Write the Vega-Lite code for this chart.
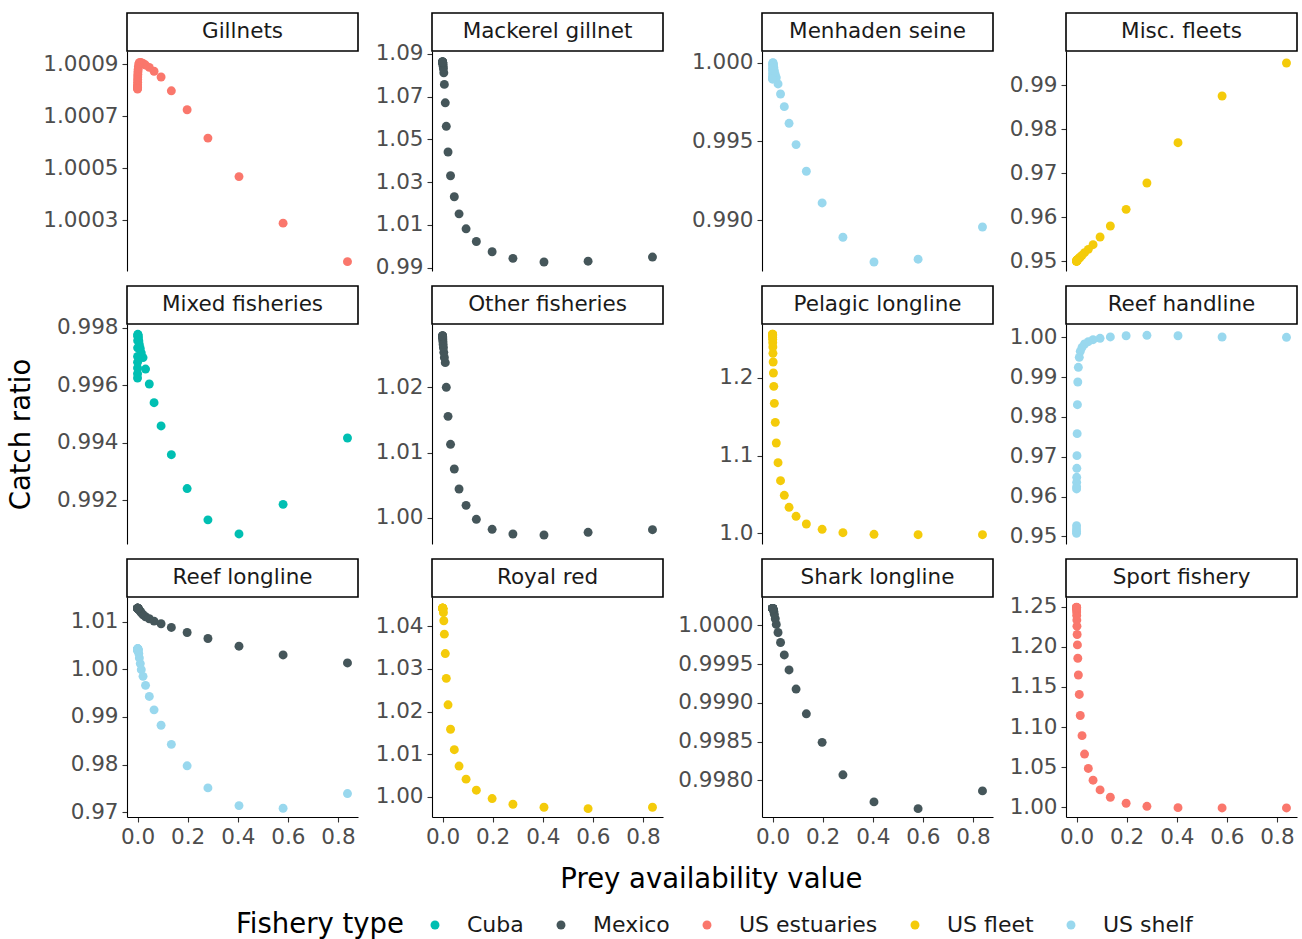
{
"$schema": "https://vega.github.io/schema/vega-lite/v6.json",
"padding": {"left": 7, "top": 12, "right": 3, "bottom": 0},
"background": "white",
"title": {"text": "Prey availability value", "orient": "bottom", "anchor": "middle", "baseline": "middle", "offset": -59, "dx": 59, "fontSize": 27.5, "fontWeight": "normal", "color": "#000000", "font": "DejaVu Sans"},
"config": {
  "font": "DejaVu Sans",
  "view": {"stroke": null},
  "axis": {"grid": false, "domainColor": "#000000", "domainWidth": 1.1, "tickColor": "#333333", "tickSize": 5, "tickWidth": 1.1, "labelFontSize": 21.5, "labelColor": "#4D4D4D", "labelPadding": 4, "titleFontSize": 27.5, "titleFontWeight": "normal", "titleColor": "#000000"},
  "legend": {"orient": "none", "legendX": 109, "legendY": 901, "direction": "horizontal", "titleOrient": "left", "titleFontSize": 27.5, "titleFontWeight": "normal", "titleColor": "#000000", "labelFontSize": 22, "labelColor": "#1A1A1A", "symbolType": "circle", "symbolSize": 80, "symbolStrokeWidth": 0, "symbolOpacity": 1, "labelOffset": 21, "columnPadding": 26, "titlePadding": 20},
  "range": {"category": ["#00BFB2", "#45565A", "#FA776C", "#F4CB0A", "#99D8EE"]},
  "text": {"fontSize": 21.5, "color": "#1A1A1A"},
  "circle": {"size": 80, "opacity": 1}
},
"datasets": {"d": [
{"p":"Gillnets","f":"US estuaries","x":0.838,"y":1.00014},
{"p":"Gillnets","f":"US estuaries","x":0.581,"y":1.000288},
{"p":"Gillnets","f":"US estuaries","x":0.405,"y":1.000467},
{"p":"Gillnets","f":"US estuaries","x":0.281,"y":1.000615},
{"p":"Gillnets","f":"US estuaries","x":0.198,"y":1.000724},
{"p":"Gillnets","f":"US estuaries","x":0.135,"y":1.000797},
{"p":"Gillnets","f":"US estuaries","x":0.094,"y":1.00085},
{"p":"Gillnets","f":"US estuaries","x":0.066,"y":1.000872},
{"p":"Gillnets","f":"US estuaries","x":0.047,"y":1.000887},
{"p":"Gillnets","f":"US estuaries","x":0.032,"y":1.000896},
{"p":"Gillnets","f":"US estuaries","x":0.022,"y":1.000902},
{"p":"Gillnets","f":"US estuaries","x":0.015,"y":1.000905},
{"p":"Gillnets","f":"US estuaries","x":0.011,"y":1.000906},
{"p":"Gillnets","f":"US estuaries","x":0.0073,"y":1.000905},
{"p":"Gillnets","f":"US estuaries","x":0.0051,"y":1.0009},
{"p":"Gillnets","f":"US estuaries","x":0.0035,"y":1.00089},
{"p":"Gillnets","f":"US estuaries","x":0.0025,"y":1.00088},
{"p":"Gillnets","f":"US estuaries","x":0.0017,"y":1.00087},
{"p":"Gillnets","f":"US estuaries","x":0.0012,"y":1.00086},
{"p":"Gillnets","f":"US estuaries","x":0.0008,"y":1.00085},
{"p":"Gillnets","f":"US estuaries","x":0.00057,"y":1.00084},
{"p":"Gillnets","f":"US estuaries","x":0.0004,"y":1.00083},
{"p":"Gillnets","f":"US estuaries","x":0.00028,"y":1.00082},
{"p":"Gillnets","f":"US estuaries","x":0.0002,"y":1.000815},
{"p":"Gillnets","f":"US estuaries","x":0.00013,"y":1.00081},
{"p":"Gillnets","f":"US estuaries","x":0.00009,"y":1.000806},
{"p":"Gillnets","f":"US estuaries","x":0.00006,"y":1.000804},
{"p":"Mackerel gillnet","f":"Mexico","x":0.838,"y":0.995},
{"p":"Mackerel gillnet","f":"Mexico","x":0.581,"y":0.9931},
{"p":"Mackerel gillnet","f":"Mexico","x":0.405,"y":0.9927},
{"p":"Mackerel gillnet","f":"Mexico","x":0.281,"y":0.9944},
{"p":"Mackerel gillnet","f":"Mexico","x":0.198,"y":0.9975},
{"p":"Mackerel gillnet","f":"Mexico","x":0.135,"y":1.0023},
{"p":"Mackerel gillnet","f":"Mexico","x":0.094,"y":1.0082},
{"p":"Mackerel gillnet","f":"Mexico","x":0.066,"y":1.0152},
{"p":"Mackerel gillnet","f":"Mexico","x":0.047,"y":1.0232},
{"p":"Mackerel gillnet","f":"Mexico","x":0.032,"y":1.033},
{"p":"Mackerel gillnet","f":"Mexico","x":0.022,"y":1.0441},
{"p":"Mackerel gillnet","f":"Mexico","x":0.015,"y":1.0561},
{"p":"Mackerel gillnet","f":"Mexico","x":0.011,"y":1.0671},
{"p":"Mackerel gillnet","f":"Mexico","x":0.0073,"y":1.0757},
{"p":"Mackerel gillnet","f":"Mexico","x":0.0051,"y":1.0811},
{"p":"Mackerel gillnet","f":"Mexico","x":0.0035,"y":1.083},
{"p":"Mackerel gillnet","f":"Mexico","x":0.0025,"y":1.0842},
{"p":"Mackerel gillnet","f":"Mexico","x":0.0017,"y":1.085},
{"p":"Mackerel gillnet","f":"Mexico","x":0.0012,"y":1.0855},
{"p":"Mackerel gillnet","f":"Mexico","x":0.0008,"y":1.0858},
{"p":"Mackerel gillnet","f":"Mexico","x":0.00057,"y":1.086},
{"p":"Mackerel gillnet","f":"Mexico","x":0.0004,"y":1.0861},
{"p":"Mackerel gillnet","f":"Mexico","x":0.00028,"y":1.0862},
{"p":"Mackerel gillnet","f":"Mexico","x":0.0002,"y":1.0862},
{"p":"Mackerel gillnet","f":"Mexico","x":0.00013,"y":1.0862},
{"p":"Mackerel gillnet","f":"Mexico","x":0.00009,"y":1.0862},
{"p":"Mackerel gillnet","f":"Mexico","x":0.00006,"y":1.0862},
{"p":"Menhaden seine","f":"US shelf","x":0.838,"y":0.98957},
{"p":"Menhaden seine","f":"US shelf","x":0.581,"y":0.98753},
{"p":"Menhaden seine","f":"US shelf","x":0.405,"y":0.98735},
{"p":"Menhaden seine","f":"US shelf","x":0.281,"y":0.98892},
{"p":"Menhaden seine","f":"US shelf","x":0.198,"y":0.9911},
{"p":"Menhaden seine","f":"US shelf","x":0.135,"y":0.99311},
{"p":"Menhaden seine","f":"US shelf","x":0.094,"y":0.9948},
{"p":"Menhaden seine","f":"US shelf","x":0.066,"y":0.99615},
{"p":"Menhaden seine","f":"US shelf","x":0.047,"y":0.99721},
{"p":"Menhaden seine","f":"US shelf","x":0.032,"y":0.99801},
{"p":"Menhaden seine","f":"US shelf","x":0.022,"y":0.99865},
{"p":"Menhaden seine","f":"US shelf","x":0.015,"y":0.99905},
{"p":"Menhaden seine","f":"US shelf","x":0.011,"y":0.99925},
{"p":"Menhaden seine","f":"US shelf","x":0.0073,"y":0.9995},
{"p":"Menhaden seine","f":"US shelf","x":0.0051,"y":0.9997},
{"p":"Menhaden seine","f":"US shelf","x":0.0035,"y":0.99985},
{"p":"Menhaden seine","f":"US shelf","x":0.0025,"y":0.99995},
{"p":"Menhaden seine","f":"US shelf","x":0.0017,"y":1.0},
{"p":"Menhaden seine","f":"US shelf","x":0.0012,"y":0.99998},
{"p":"Menhaden seine","f":"US shelf","x":0.0008,"y":0.9999},
{"p":"Menhaden seine","f":"US shelf","x":0.00057,"y":0.9998},
{"p":"Menhaden seine","f":"US shelf","x":0.0004,"y":0.99965},
{"p":"Menhaden seine","f":"US shelf","x":0.00028,"y":0.9995},
{"p":"Menhaden seine","f":"US shelf","x":0.0002,"y":0.9993},
{"p":"Menhaden seine","f":"US shelf","x":0.00013,"y":0.9991},
{"p":"Menhaden seine","f":"US shelf","x":0.00009,"y":0.999},
{"p":"Menhaden seine","f":"US shelf","x":0.00006,"y":0.99895},
{"p":"Misc. fleets","f":"US fleet","x":0.838,"y":0.995},
{"p":"Misc. fleets","f":"US fleet","x":0.581,"y":0.9875},
{"p":"Misc. fleets","f":"US fleet","x":0.405,"y":0.97689},
{"p":"Misc. fleets","f":"US fleet","x":0.281,"y":0.96773},
{"p":"Misc. fleets","f":"US fleet","x":0.198,"y":0.96174},
{"p":"Misc. fleets","f":"US fleet","x":0.135,"y":0.95795},
{"p":"Misc. fleets","f":"US fleet","x":0.094,"y":0.95545},
{"p":"Misc. fleets","f":"US fleet","x":0.066,"y":0.95371},
{"p":"Misc. fleets","f":"US fleet","x":0.047,"y":0.95265},
{"p":"Misc. fleets","f":"US fleet","x":0.032,"y":0.95189},
{"p":"Misc. fleets","f":"US fleet","x":0.022,"y":0.9513},
{"p":"Misc. fleets","f":"US fleet","x":0.015,"y":0.95091},
{"p":"Misc. fleets","f":"US fleet","x":0.011,"y":0.95068},
{"p":"Misc. fleets","f":"US fleet","x":0.0073,"y":0.9505},
{"p":"Misc. fleets","f":"US fleet","x":0.0051,"y":0.95035},
{"p":"Misc. fleets","f":"US fleet","x":0.0035,"y":0.95025},
{"p":"Misc. fleets","f":"US fleet","x":0.0025,"y":0.95017},
{"p":"Misc. fleets","f":"US fleet","x":0.0017,"y":0.9501},
{"p":"Misc. fleets","f":"US fleet","x":0.0012,"y":0.95007},
{"p":"Misc. fleets","f":"US fleet","x":0.0008,"y":0.95005},
{"p":"Misc. fleets","f":"US fleet","x":0.00057,"y":0.95003},
{"p":"Misc. fleets","f":"US fleet","x":0.0004,"y":0.95002},
{"p":"Misc. fleets","f":"US fleet","x":0.00028,"y":0.95001},
{"p":"Misc. fleets","f":"US fleet","x":0.0002,"y":0.95},
{"p":"Misc. fleets","f":"US fleet","x":0.00013,"y":0.95},
{"p":"Misc. fleets","f":"US fleet","x":0.00009,"y":0.95},
{"p":"Misc. fleets","f":"US fleet","x":0.00006,"y":0.95},
{"p":"Mixed fisheries","f":"Cuba","x":0.838,"y":0.99416},
{"p":"Mixed fisheries","f":"Cuba","x":0.581,"y":0.99185},
{"p":"Mixed fisheries","f":"Cuba","x":0.405,"y":0.99082},
{"p":"Mixed fisheries","f":"Cuba","x":0.281,"y":0.99131},
{"p":"Mixed fisheries","f":"Cuba","x":0.198,"y":0.9924},
{"p":"Mixed fisheries","f":"Cuba","x":0.135,"y":0.99358},
{"p":"Mixed fisheries","f":"Cuba","x":0.094,"y":0.99458},
{"p":"Mixed fisheries","f":"Cuba","x":0.066,"y":0.99539},
{"p":"Mixed fisheries","f":"Cuba","x":0.047,"y":0.99604},
{"p":"Mixed fisheries","f":"Cuba","x":0.032,"y":0.99656},
{"p":"Mixed fisheries","f":"Cuba","x":0.022,"y":0.99696},
{"p":"Mixed fisheries","f":"Cuba","x":0.015,"y":0.99712},
{"p":"Mixed fisheries","f":"Cuba","x":0.011,"y":0.99728},
{"p":"Mixed fisheries","f":"Cuba","x":0.0073,"y":0.99742},
{"p":"Mixed fisheries","f":"Cuba","x":0.0051,"y":0.99755},
{"p":"Mixed fisheries","f":"Cuba","x":0.0035,"y":0.99765},
{"p":"Mixed fisheries","f":"Cuba","x":0.0025,"y":0.99772},
{"p":"Mixed fisheries","f":"Cuba","x":0.0017,"y":0.99776},
{"p":"Mixed fisheries","f":"Cuba","x":0.0012,"y":0.99777},
{"p":"Mixed fisheries","f":"Cuba","x":0.0008,"y":0.9977},
{"p":"Mixed fisheries","f":"Cuba","x":0.00057,"y":0.99755},
{"p":"Mixed fisheries","f":"Cuba","x":0.0004,"y":0.9973},
{"p":"Mixed fisheries","f":"Cuba","x":0.00028,"y":0.997},
{"p":"Mixed fisheries","f":"Cuba","x":0.0002,"y":0.9968},
{"p":"Mixed fisheries","f":"Cuba","x":0.00013,"y":0.9966},
{"p":"Mixed fisheries","f":"Cuba","x":0.00009,"y":0.9964},
{"p":"Mixed fisheries","f":"Cuba","x":0.00006,"y":0.99625},
{"p":"Other fisheries","f":"Mexico","x":0.838,"y":0.99822},
{"p":"Other fisheries","f":"Mexico","x":0.581,"y":0.99781},
{"p":"Other fisheries","f":"Mexico","x":0.405,"y":0.9974},
{"p":"Other fisheries","f":"Mexico","x":0.281,"y":0.99756},
{"p":"Other fisheries","f":"Mexico","x":0.198,"y":0.99827},
{"p":"Other fisheries","f":"Mexico","x":0.135,"y":0.9998},
{"p":"Other fisheries","f":"Mexico","x":0.094,"y":1.00193},
{"p":"Other fisheries","f":"Mexico","x":0.066,"y":1.00443},
{"p":"Other fisheries","f":"Mexico","x":0.047,"y":1.00748},
{"p":"Other fisheries","f":"Mexico","x":0.032,"y":1.01125},
{"p":"Other fisheries","f":"Mexico","x":0.022,"y":1.01552},
{"p":"Other fisheries","f":"Mexico","x":0.015,"y":1.01995},
{"p":"Other fisheries","f":"Mexico","x":0.011,"y":1.02372},
{"p":"Other fisheries","f":"Mexico","x":0.0073,"y":1.0245},
{"p":"Other fisheries","f":"Mexico","x":0.0051,"y":1.0253},
{"p":"Other fisheries","f":"Mexico","x":0.0035,"y":1.026},
{"p":"Other fisheries","f":"Mexico","x":0.0025,"y":1.0265},
{"p":"Other fisheries","f":"Mexico","x":0.0017,"y":1.0269},
{"p":"Other fisheries","f":"Mexico","x":0.0012,"y":1.0272},
{"p":"Other fisheries","f":"Mexico","x":0.0008,"y":1.0274},
{"p":"Other fisheries","f":"Mexico","x":0.00057,"y":1.0276},
{"p":"Other fisheries","f":"Mexico","x":0.0004,"y":1.0277},
{"p":"Other fisheries","f":"Mexico","x":0.00028,"y":1.0278},
{"p":"Other fisheries","f":"Mexico","x":0.0002,"y":1.0278},
{"p":"Other fisheries","f":"Mexico","x":0.00013,"y":1.0278},
{"p":"Other fisheries","f":"Mexico","x":0.00009,"y":1.0278},
{"p":"Other fisheries","f":"Mexico","x":0.00006,"y":1.0278},
{"p":"Pelagic longline","f":"US fleet","x":0.838,"y":0.99829},
{"p":"Pelagic longline","f":"US fleet","x":0.581,"y":0.99829},
{"p":"Pelagic longline","f":"US fleet","x":0.405,"y":0.99872},
{"p":"Pelagic longline","f":"US fleet","x":0.281,"y":1.00086},
{"p":"Pelagic longline","f":"US fleet","x":0.198,"y":1.00514},
{"p":"Pelagic longline","f":"US fleet","x":0.135,"y":1.01199},
{"p":"Pelagic longline","f":"US fleet","x":0.094,"y":1.02184},
{"p":"Pelagic longline","f":"US fleet","x":0.066,"y":1.0334},
{"p":"Pelagic longline","f":"US fleet","x":0.047,"y":1.04882},
{"p":"Pelagic longline","f":"US fleet","x":0.032,"y":1.06767},
{"p":"Pelagic longline","f":"US fleet","x":0.022,"y":1.09079},
{"p":"Pelagic longline","f":"US fleet","x":0.015,"y":1.11606},
{"p":"Pelagic longline","f":"US fleet","x":0.011,"y":1.14261},
{"p":"Pelagic longline","f":"US fleet","x":0.0073,"y":1.16702},
{"p":"Pelagic longline","f":"US fleet","x":0.0051,"y":1.18887},
{"p":"Pelagic longline","f":"US fleet","x":0.0035,"y":1.206},
{"p":"Pelagic longline","f":"US fleet","x":0.0025,"y":1.22013},
{"p":"Pelagic longline","f":"US fleet","x":0.0017,"y":1.23126},
{"p":"Pelagic longline","f":"US fleet","x":0.0012,"y":1.2394},
{"p":"Pelagic longline","f":"US fleet","x":0.0008,"y":1.245},
{"p":"Pelagic longline","f":"US fleet","x":0.00057,"y":1.2493},
{"p":"Pelagic longline","f":"US fleet","x":0.0004,"y":1.252},
{"p":"Pelagic longline","f":"US fleet","x":0.00028,"y":1.2544},
{"p":"Pelagic longline","f":"US fleet","x":0.0002,"y":1.2552},
{"p":"Pelagic longline","f":"US fleet","x":0.00013,"y":1.2556},
{"p":"Pelagic longline","f":"US fleet","x":0.00009,"y":1.2558},
{"p":"Pelagic longline","f":"US fleet","x":0.00006,"y":1.2559},
{"p":"Reef handline","f":"US shelf","x":0.838,"y":1.0},
{"p":"Reef handline","f":"US shelf","x":0.581,"y":1.00008},
{"p":"Reef handline","f":"US shelf","x":0.405,"y":1.0004},
{"p":"Reef handline","f":"US shelf","x":0.281,"y":1.0005},
{"p":"Reef handline","f":"US shelf","x":0.198,"y":1.0004},
{"p":"Reef handline","f":"US shelf","x":0.135,"y":1.0001},
{"p":"Reef handline","f":"US shelf","x":0.094,"y":0.99975},
{"p":"Reef handline","f":"US shelf","x":0.066,"y":0.99941},
{"p":"Reef handline","f":"US shelf","x":0.047,"y":0.99891},
{"p":"Reef handline","f":"US shelf","x":0.032,"y":0.99832},
{"p":"Reef handline","f":"US shelf","x":0.022,"y":0.99749},
{"p":"Reef handline","f":"US shelf","x":0.015,"y":0.99648},
{"p":"Reef handline","f":"US shelf","x":0.011,"y":0.99497},
{"p":"Reef handline","f":"US shelf","x":0.0073,"y":0.99246},
{"p":"Reef handline","f":"US shelf","x":0.0051,"y":0.98878},
{"p":"Reef handline","f":"US shelf","x":0.0035,"y":0.98308},
{"p":"Reef handline","f":"US shelf","x":0.0025,"y":0.9758},
{"p":"Reef handline","f":"US shelf","x":0.0017,"y":0.97027},
{"p":"Reef handline","f":"US shelf","x":0.0012,"y":0.96709},
{"p":"Reef handline","f":"US shelf","x":0.0008,"y":0.96482},
{"p":"Reef handline","f":"US shelf","x":0.00057,"y":0.96357},
{"p":"Reef handline","f":"US shelf","x":0.0004,"y":0.96248},
{"p":"Reef handline","f":"US shelf","x":0.00028,"y":0.9619},
{"p":"Reef handline","f":"US shelf","x":0.0002,"y":0.95268},
{"p":"Reef handline","f":"US shelf","x":0.00013,"y":0.95184},
{"p":"Reef handline","f":"US shelf","x":0.00009,"y":0.9512},
{"p":"Reef handline","f":"US shelf","x":0.00006,"y":0.95075},
{"p":"Reef longline","f":"Mexico","x":0.838,"y":1.00134},
{"p":"Reef longline","f":"Mexico","x":0.581,"y":1.00302},
{"p":"Reef longline","f":"Mexico","x":0.405,"y":1.00485},
{"p":"Reef longline","f":"Mexico","x":0.281,"y":1.00647},
{"p":"Reef longline","f":"Mexico","x":0.198,"y":1.00773},
{"p":"Reef longline","f":"Mexico","x":0.135,"y":1.00879},
{"p":"Reef longline","f":"Mexico","x":0.094,"y":1.00956},
{"p":"Reef longline","f":"Mexico","x":0.066,"y":1.01012},
{"p":"Reef longline","f":"Mexico","x":0.047,"y":1.01062},
{"p":"Reef longline","f":"Mexico","x":0.032,"y":1.01104},
{"p":"Reef longline","f":"Mexico","x":0.022,"y":1.01146},
{"p":"Reef longline","f":"Mexico","x":0.015,"y":1.01188},
{"p":"Reef longline","f":"Mexico","x":0.011,"y":1.01216},
{"p":"Reef longline","f":"Mexico","x":0.0073,"y":1.01244},
{"p":"Reef longline","f":"Mexico","x":0.0051,"y":1.01265},
{"p":"Reef longline","f":"Mexico","x":0.0035,"y":1.0127},
{"p":"Reef longline","f":"Mexico","x":0.0025,"y":1.01275},
{"p":"Reef longline","f":"Mexico","x":0.0017,"y":1.01278},
{"p":"Reef longline","f":"Mexico","x":0.0012,"y":1.0128},
{"p":"Reef longline","f":"Mexico","x":0.0008,"y":1.0128},
{"p":"Reef longline","f":"Mexico","x":0.00057,"y":1.0128},
{"p":"Reef longline","f":"Mexico","x":0.0004,"y":1.0128},
{"p":"Reef longline","f":"Mexico","x":0.00028,"y":1.0128},
{"p":"Reef longline","f":"Mexico","x":0.0002,"y":1.0128},
{"p":"Reef longline","f":"Mexico","x":0.00013,"y":1.0128},
{"p":"Reef longline","f":"Mexico","x":0.00009,"y":1.0128},
{"p":"Reef longline","f":"Mexico","x":0.00006,"y":1.0128},
{"p":"Reef longline","f":"US shelf","x":0.838,"y":0.97392},
{"p":"Reef longline","f":"US shelf","x":0.581,"y":0.97083},
{"p":"Reef longline","f":"US shelf","x":0.405,"y":0.97139},
{"p":"Reef longline","f":"US shelf","x":0.281,"y":0.97511},
{"p":"Reef longline","f":"US shelf","x":0.198,"y":0.97975},
{"p":"Reef longline","f":"US shelf","x":0.135,"y":0.98425},
{"p":"Reef longline","f":"US shelf","x":0.094,"y":0.98826},
{"p":"Reef longline","f":"US shelf","x":0.066,"y":0.99149},
{"p":"Reef longline","f":"US shelf","x":0.047,"y":0.99431},
{"p":"Reef longline","f":"US shelf","x":0.032,"y":0.99663},
{"p":"Reef longline","f":"US shelf","x":0.022,"y":0.99852},
{"p":"Reef longline","f":"US shelf","x":0.015,"y":0.99993},
{"p":"Reef longline","f":"US shelf","x":0.011,"y":1.0012},
{"p":"Reef longline","f":"US shelf","x":0.0073,"y":1.0024},
{"p":"Reef longline","f":"US shelf","x":0.0051,"y":1.0033},
{"p":"Reef longline","f":"US shelf","x":0.0035,"y":1.0039},
{"p":"Reef longline","f":"US shelf","x":0.0025,"y":1.0042},
{"p":"Reef longline","f":"US shelf","x":0.0017,"y":1.0043},
{"p":"Reef longline","f":"US shelf","x":0.0012,"y":1.0043},
{"p":"Reef longline","f":"US shelf","x":0.0008,"y":1.0043},
{"p":"Reef longline","f":"US shelf","x":0.00057,"y":1.0043},
{"p":"Reef longline","f":"US shelf","x":0.0004,"y":1.0042},
{"p":"Reef longline","f":"US shelf","x":0.00028,"y":1.0042},
{"p":"Reef longline","f":"US shelf","x":0.0002,"y":1.0041},
{"p":"Reef longline","f":"US shelf","x":0.00013,"y":1.0041},
{"p":"Reef longline","f":"US shelf","x":0.00009,"y":1.004},
{"p":"Reef longline","f":"US shelf","x":0.00006,"y":1.004},
{"p":"Royal red","f":"US fleet","x":0.838,"y":0.99757},
{"p":"Royal red","f":"US fleet","x":0.581,"y":0.99725},
{"p":"Royal red","f":"US fleet","x":0.405,"y":0.99757},
{"p":"Royal red","f":"US fleet","x":0.281,"y":0.99827},
{"p":"Royal red","f":"US fleet","x":0.198,"y":0.99961},
{"p":"Royal red","f":"US fleet","x":0.135,"y":1.00157},
{"p":"Royal red","f":"US fleet","x":0.094,"y":1.00416},
{"p":"Royal red","f":"US fleet","x":0.066,"y":1.00722},
{"p":"Royal red","f":"US fleet","x":0.047,"y":1.01106},
{"p":"Royal red","f":"US fleet","x":0.032,"y":1.01584},
{"p":"Royal red","f":"US fleet","x":0.022,"y":1.02157},
{"p":"Royal red","f":"US fleet","x":0.015,"y":1.02776},
{"p":"Royal red","f":"US fleet","x":0.011,"y":1.03357},
{"p":"Royal red","f":"US fleet","x":0.0073,"y":1.03812},
{"p":"Royal red","f":"US fleet","x":0.0051,"y":1.04125},
{"p":"Royal red","f":"US fleet","x":0.0035,"y":1.04314},
{"p":"Royal red","f":"US fleet","x":0.0025,"y":1.04392},
{"p":"Royal red","f":"US fleet","x":0.0017,"y":1.0441},
{"p":"Royal red","f":"US fleet","x":0.0012,"y":1.0442},
{"p":"Royal red","f":"US fleet","x":0.0008,"y":1.0442},
{"p":"Royal red","f":"US fleet","x":0.00057,"y":1.0442},
{"p":"Royal red","f":"US fleet","x":0.0004,"y":1.0442},
{"p":"Royal red","f":"US fleet","x":0.00028,"y":1.0442},
{"p":"Royal red","f":"US fleet","x":0.0002,"y":1.0442},
{"p":"Royal red","f":"US fleet","x":0.00013,"y":1.0442},
{"p":"Royal red","f":"US fleet","x":0.00009,"y":1.0442},
{"p":"Royal red","f":"US fleet","x":0.00006,"y":1.0442},
{"p":"Shark longline","f":"Mexico","x":0.838,"y":0.997866},
{"p":"Shark longline","f":"Mexico","x":0.581,"y":0.997637},
{"p":"Shark longline","f":"Mexico","x":0.405,"y":0.997724},
{"p":"Shark longline","f":"Mexico","x":0.281,"y":0.998073},
{"p":"Shark longline","f":"Mexico","x":0.198,"y":0.998492},
{"p":"Shark longline","f":"Mexico","x":0.135,"y":0.99886},
{"p":"Shark longline","f":"Mexico","x":0.094,"y":0.999179},
{"p":"Shark longline","f":"Mexico","x":0.066,"y":0.999426},
{"p":"Shark longline","f":"Mexico","x":0.047,"y":0.99962},
{"p":"Shark longline","f":"Mexico","x":0.032,"y":0.99978},
{"p":"Shark longline","f":"Mexico","x":0.022,"y":0.999909},
{"p":"Shark longline","f":"Mexico","x":0.015,"y":1.000013},
{"p":"Shark longline","f":"Mexico","x":0.011,"y":1.000086},
{"p":"Shark longline","f":"Mexico","x":0.0073,"y":1.000143},
{"p":"Shark longline","f":"Mexico","x":0.0051,"y":1.000181},
{"p":"Shark longline","f":"Mexico","x":0.0035,"y":1.0002},
{"p":"Shark longline","f":"Mexico","x":0.0025,"y":1.00021},
{"p":"Shark longline","f":"Mexico","x":0.0017,"y":1.000215},
{"p":"Shark longline","f":"Mexico","x":0.0012,"y":1.000218},
{"p":"Shark longline","f":"Mexico","x":0.0008,"y":1.00022},
{"p":"Shark longline","f":"Mexico","x":0.00057,"y":1.00022},
{"p":"Shark longline","f":"Mexico","x":0.0004,"y":1.00022},
{"p":"Shark longline","f":"Mexico","x":0.00028,"y":1.00022},
{"p":"Shark longline","f":"Mexico","x":0.0002,"y":1.00022},
{"p":"Shark longline","f":"Mexico","x":0.00013,"y":1.00022},
{"p":"Shark longline","f":"Mexico","x":0.00009,"y":1.00022},
{"p":"Shark longline","f":"Mexico","x":0.00006,"y":1.00022},
{"p":"Sport fishery","f":"US estuaries","x":0.838,"y":0.99917},
{"p":"Sport fishery","f":"US estuaries","x":0.581,"y":0.99917},
{"p":"Sport fishery","f":"US estuaries","x":0.405,"y":0.99958},
{"p":"Sport fishery","f":"US estuaries","x":0.281,"y":1.00125},
{"p":"Sport fishery","f":"US estuaries","x":0.198,"y":1.00501},
{"p":"Sport fishery","f":"US estuaries","x":0.135,"y":1.01252},
{"p":"Sport fishery","f":"US estuaries","x":0.094,"y":1.0217},
{"p":"Sport fishery","f":"US estuaries","x":0.066,"y":1.0338},
{"p":"Sport fishery","f":"US estuaries","x":0.047,"y":1.04841},
{"p":"Sport fishery","f":"US estuaries","x":0.032,"y":1.06636},
{"p":"Sport fishery","f":"US estuaries","x":0.022,"y":1.08932},
{"p":"Sport fishery","f":"US estuaries","x":0.015,"y":1.11436},
{"p":"Sport fishery","f":"US estuaries","x":0.011,"y":1.14065},
{"p":"Sport fishery","f":"US estuaries","x":0.0073,"y":1.16486},
{"p":"Sport fishery","f":"US estuaries","x":0.0051,"y":1.18573},
{"p":"Sport fishery","f":"US estuaries","x":0.0035,"y":1.20242},
{"p":"Sport fishery","f":"US estuaries","x":0.0025,"y":1.21536},
{"p":"Sport fishery","f":"US estuaries","x":0.0017,"y":1.22579},
{"p":"Sport fishery","f":"US estuaries","x":0.0012,"y":1.2333},
{"p":"Sport fishery","f":"US estuaries","x":0.0008,"y":1.23915},
{"p":"Sport fishery","f":"US estuaries","x":0.00057,"y":1.2433},
{"p":"Sport fishery","f":"US estuaries","x":0.0004,"y":1.2462},
{"p":"Sport fishery","f":"US estuaries","x":0.00028,"y":1.2479},
{"p":"Sport fishery","f":"US estuaries","x":0.0002,"y":1.2487},
{"p":"Sport fishery","f":"US estuaries","x":0.00013,"y":1.249},
{"p":"Sport fishery","f":"US estuaries","x":0.00009,"y":1.2492},
{"p":"Sport fishery","f":"US estuaries","x":0.00006,"y":1.2493}
]},
"resolve": {"scale": {"color": "shared"}, "legend": {"color": "shared"}},
"spacing": 11,
"vconcat": [
{"spacing": 6, "vconcat": [
{"spacing": 10, "hconcat": [
  {"bounds": "flush", "spacing": 0, "vconcat": [
   {"width": 231, "height": 38, "data": {"values": [{"t": "Gillnets"}]}, "mark": "text", "encoding": {"text": {"field": "t"}}, "view": {"stroke": "#000000", "strokeWidth": 1.6}},
   {"width": 231, "height": 220, "data": {"name": "d"}, "transform": [{"filter": "datum.p === 'Gillnets'"}], "mark": "circle",
    "encoding": {"x": {"field": "x", "type": "quantitative", "scale": {"domain": [-0.042, 0.88], "nice": false, "zero": false}, "axis": null},
     "y": {"field": "y", "type": "quantitative", "scale": {"domain": [1.000104, 1.00095], "nice": false, "zero": false}, "axis": {"values": [1.0003, 1.0005, 1.0007, 1.0009], "format": ".4f", "title": null, "minExtent": 120}},
     "color": {"field": "f", "type": "nominal", "title": "Fishery type"}}}
  ]},
  {"bounds": "flush", "spacing": 0, "vconcat": [
   {"width": 231, "height": 38, "data": {"values": [{"t": "Mackerel gillnet"}]}, "mark": "text", "encoding": {"text": {"field": "t"}}, "view": {"stroke": "#000000", "strokeWidth": 1.6}},
   {"width": 231, "height": 220, "data": {"name": "d"}, "transform": [{"filter": "datum.p === 'Mackerel gillnet'"}], "mark": "circle",
    "encoding": {"x": {"field": "x", "type": "quantitative", "scale": {"domain": [-0.042, 0.88], "nice": false, "zero": false}, "axis": null},
     "y": {"field": "y", "type": "quantitative", "scale": {"domain": [0.9885, 1.0913], "nice": false, "zero": false}, "axis": {"values": [0.99, 1.01, 1.03, 1.05, 1.07, 1.09], "format": ".2f", "title": null, "minExtent": 63}},
     "color": {"field": "f", "type": "nominal", "title": "Fishery type"}}}
  ]},
  {"bounds": "flush", "spacing": 0, "vconcat": [
   {"width": 231, "height": 38, "data": {"values": [{"t": "Menhaden seine"}]}, "mark": "text", "encoding": {"text": {"field": "t"}}, "view": {"stroke": "#000000", "strokeWidth": 1.6}},
   {"width": 231, "height": 220, "data": {"name": "d"}, "transform": [{"filter": "datum.p === 'Menhaden seine'"}], "mark": "circle",
    "encoding": {"x": {"field": "x", "type": "quantitative", "scale": {"domain": [-0.042, 0.88], "nice": false, "zero": false}, "axis": null},
     "y": {"field": "y", "type": "quantitative", "scale": {"domain": [0.98678, 1.00074], "nice": false, "zero": false}, "axis": {"values": [0.99, 0.995, 1.0], "format": ".3f", "title": null, "minExtent": 88}},
     "color": {"field": "f", "type": "nominal", "title": "Fishery type"}}}
  ]},
  {"bounds": "flush", "spacing": 0, "vconcat": [
   {"width": 231, "height": 38, "data": {"values": [{"t": "Misc. fleets"}]}, "mark": "text", "encoding": {"text": {"field": "t"}}, "view": {"stroke": "#000000", "strokeWidth": 1.6}},
   {"width": 231, "height": 220, "data": {"name": "d"}, "transform": [{"filter": "datum.p === 'Misc. fleets'"}], "mark": "circle",
    "encoding": {"x": {"field": "x", "type": "quantitative", "scale": {"domain": [-0.042, 0.88], "nice": false, "zero": false}, "axis": null},
     "y": {"field": "y", "type": "quantitative", "scale": {"domain": [0.94773, 0.99773], "nice": false, "zero": false}, "axis": {"values": [0.95, 0.96, 0.97, 0.98, 0.99], "format": ".2f", "title": null, "minExtent": 62}},
     "color": {"field": "f", "type": "nominal", "title": "Fishery type"}}}
  ]}
]},
{"spacing": 10, "hconcat": [
  {"bounds": "flush", "spacing": 0, "vconcat": [
   {"width": 231, "height": 38, "data": {"values": [{"t": "Mixed fisheries"}]}, "mark": "text", "encoding": {"text": {"field": "t"}}, "view": {"stroke": "#000000", "strokeWidth": 1.6}},
   {"width": 231, "height": 220, "data": {"name": "d"}, "transform": [{"filter": "datum.p === 'Mixed fisheries'"}], "mark": "circle",
    "encoding": {"x": {"field": "x", "type": "quantitative", "scale": {"domain": [-0.042, 0.88], "nice": false, "zero": false}, "axis": null},
     "y": {"field": "y", "type": "quantitative", "scale": {"domain": [0.99047, 0.99813], "nice": false, "zero": false}, "axis": {"values": [0.992, 0.994, 0.996, 0.998], "format": ".3f", "title": "Catch ratio", "titlePadding": 12, "minExtent": 80}},
     "color": {"field": "f", "type": "nominal", "title": "Fishery type"}}}
  ]},
  {"bounds": "flush", "spacing": 0, "vconcat": [
   {"width": 231, "height": 38, "data": {"values": [{"t": "Other fisheries"}]}, "mark": "text", "encoding": {"text": {"field": "t"}}, "view": {"stroke": "#000000", "strokeWidth": 1.6}},
   {"width": 231, "height": 220, "data": {"name": "d"}, "transform": [{"filter": "datum.p === 'Other fisheries'"}], "mark": "circle",
    "encoding": {"x": {"field": "x", "type": "quantitative", "scale": {"domain": [-0.042, 0.88], "nice": false, "zero": false}, "axis": null},
     "y": {"field": "y", "type": "quantitative", "scale": {"domain": [0.99603, 1.02962], "nice": false, "zero": false}, "axis": {"values": [1.0, 1.01, 1.02], "format": ".2f", "title": null, "minExtent": 63}},
     "color": {"field": "f", "type": "nominal", "title": "Fishery type"}}}
  ]},
  {"bounds": "flush", "spacing": 0, "vconcat": [
   {"width": 231, "height": 38, "data": {"values": [{"t": "Pelagic longline"}]}, "mark": "text", "encoding": {"text": {"field": "t"}}, "view": {"stroke": "#000000", "strokeWidth": 1.6}},
   {"width": 231, "height": 220, "data": {"name": "d"}, "transform": [{"filter": "datum.p === 'Pelagic longline'"}], "mark": "circle",
    "encoding": {"x": {"field": "x", "type": "quantitative", "scale": {"domain": [-0.042, 0.88], "nice": false, "zero": false}, "axis": null},
     "y": {"field": "y", "type": "quantitative", "scale": {"domain": [0.9863, 1.269], "nice": false, "zero": false}, "axis": {"values": [1.0, 1.1, 1.2], "format": ".1f", "title": null, "minExtent": 88}},
     "color": {"field": "f", "type": "nominal", "title": "Fishery type"}}}
  ]},
  {"bounds": "flush", "spacing": 0, "vconcat": [
   {"width": 231, "height": 38, "data": {"values": [{"t": "Reef handline"}]}, "mark": "text", "encoding": {"text": {"field": "t"}}, "view": {"stroke": "#000000", "strokeWidth": 1.6}},
   {"width": 231, "height": 220, "data": {"name": "d"}, "transform": [{"filter": "datum.p === 'Reef handline'"}], "mark": "circle",
    "encoding": {"x": {"field": "x", "type": "quantitative", "scale": {"domain": [-0.042, 0.88], "nice": false, "zero": false}, "axis": null},
     "y": {"field": "y", "type": "quantitative", "scale": {"domain": [0.94807, 1.00335], "nice": false, "zero": false}, "axis": {"values": [0.95, 0.96, 0.97, 0.98, 0.99, 1.0], "format": ".2f", "title": null, "minExtent": 62}},
     "color": {"field": "f", "type": "nominal", "title": "Fishery type"}}}
  ]}
]}
]},
{"spacing": 10, "hconcat": [
  {"bounds": "flush", "spacing": 0, "vconcat": [
   {"width": 231, "height": 38, "data": {"values": [{"t": "Reef longline"}]}, "mark": "text", "encoding": {"text": {"field": "t"}}, "view": {"stroke": "#000000", "strokeWidth": 1.6}},
   {"width": 231, "height": 220, "data": {"name": "d"}, "transform": [{"filter": "datum.p === 'Reef longline'"}], "mark": "circle",
    "encoding": {"x": {"field": "x", "type": "quantitative", "scale": {"domain": [-0.042, 0.88], "nice": false, "zero": false}, "axis": {"values": [0, 0.2, 0.4, 0.6, 0.8], "format": ".1f", "title": null}},
     "y": {"field": "y", "type": "quantitative", "scale": {"domain": [0.969, 1.01518], "nice": false, "zero": false}, "axis": {"values": [0.97, 0.98, 0.99, 1.0, 1.01], "format": ".2f", "title": null, "minExtent": 120}},
     "color": {"field": "f", "type": "nominal", "title": "Fishery type"}}}
  ]},
  {"bounds": "flush", "spacing": 0, "vconcat": [
   {"width": 231, "height": 38, "data": {"values": [{"t": "Royal red"}]}, "mark": "text", "encoding": {"text": {"field": "t"}}, "view": {"stroke": "#000000", "strokeWidth": 1.6}},
   {"width": 231, "height": 220, "data": {"name": "d"}, "transform": [{"filter": "datum.p === 'Royal red'"}], "mark": "circle",
    "encoding": {"x": {"field": "x", "type": "quantitative", "scale": {"domain": [-0.042, 0.88], "nice": false, "zero": false}, "axis": {"values": [0, 0.2, 0.4, 0.6, 0.8], "format": ".1f", "title": null}},
     "y": {"field": "y", "type": "quantitative", "scale": {"domain": [0.99529, 1.04682], "nice": false, "zero": false}, "axis": {"values": [1.0, 1.01, 1.02, 1.03, 1.04], "format": ".2f", "title": null, "minExtent": 63}},
     "color": {"field": "f", "type": "nominal", "title": "Fishery type"}}}
  ]},
  {"bounds": "flush", "spacing": 0, "vconcat": [
   {"width": 231, "height": 38, "data": {"values": [{"t": "Shark longline"}]}, "mark": "text", "encoding": {"text": {"field": "t"}}, "view": {"stroke": "#000000", "strokeWidth": 1.6}},
   {"width": 231, "height": 220, "data": {"name": "d"}, "transform": [{"filter": "datum.p === 'Shark longline'"}], "mark": "circle",
    "encoding": {"x": {"field": "x", "type": "quantitative", "scale": {"domain": [-0.042, 0.88], "nice": false, "zero": false}, "axis": {"values": [0, 0.2, 0.4, 0.6, 0.8], "format": ".1f", "title": null}},
     "y": {"field": "y", "type": "quantitative", "scale": {"domain": [0.997529, 1.000367], "nice": false, "zero": false}, "axis": {"values": [0.998, 0.9985, 0.999, 0.9995, 1.0], "format": ".4f", "title": null, "minExtent": 88}},
     "color": {"field": "f", "type": "nominal", "title": "Fishery type"}}}
  ]},
  {"bounds": "flush", "spacing": 0, "vconcat": [
   {"width": 231, "height": 38, "data": {"values": [{"t": "Sport fishery"}]}, "mark": "text", "encoding": {"text": {"field": "t"}}, "view": {"stroke": "#000000", "strokeWidth": 1.6}},
   {"width": 231, "height": 220, "data": {"name": "d"}, "transform": [{"filter": "datum.p === 'Sport fishery'"}], "mark": "circle",
    "encoding": {"x": {"field": "x", "type": "quantitative", "scale": {"domain": [-0.042, 0.88], "nice": false, "zero": false}, "axis": {"values": [0, 0.2, 0.4, 0.6, 0.8], "format": ".1f", "title": null}},
     "y": {"field": "y", "type": "quantitative", "scale": {"domain": [0.9879, 1.2621], "nice": false, "zero": false}, "axis": {"values": [1.0, 1.05, 1.1, 1.15, 1.2, 1.25], "format": ".2f", "title": null, "minExtent": 62}},
     "color": {"field": "f", "type": "nominal", "title": "Fishery type"}}}
  ]}
]}
]
}
